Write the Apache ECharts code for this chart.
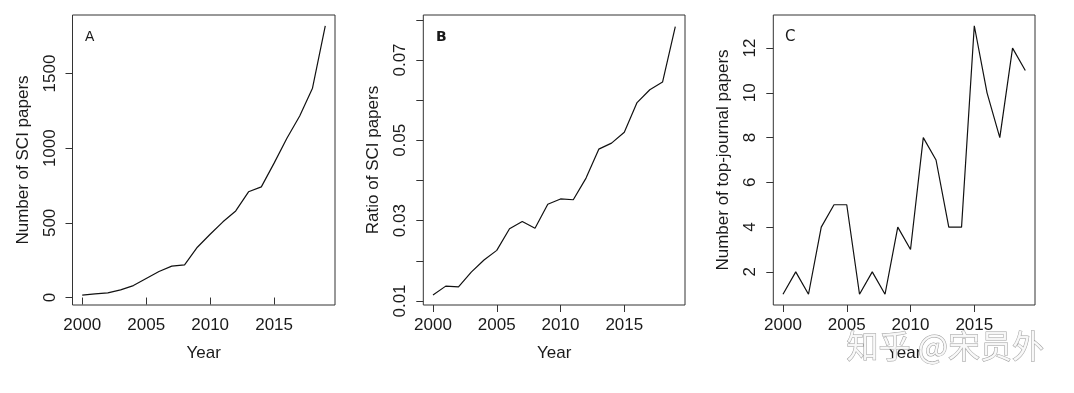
<!DOCTYPE html>
<html>
<head>
<meta charset="utf-8">
<script src="https://cdn.jsdelivr.net/npm/echarts@6/dist/echarts.min.js"></script>
<style>
html,body{margin:0;padding:0;background:#fff;}
#chart{width:1074px;height:393px;}
</style>
</head>
<body>
<div id="chart"></div>
<script>
// ---- data ----
const years = [2000,2001,2002,2003,2004,2005,2006,2007,2008,2009,2010,2011,2012,2013,2014,2015,2016,2017,2018,2019];
const sciCount = [16,25,31,51,80,127,174,210,219,337,424,507,580,708,741,900,1067,1216,1402,1819];
const sciRatio = [0.0115,0.0137,0.0135,0.0172,0.0202,0.0226,0.0280,0.0298,0.0281,0.0341,0.0354,0.0352,0.0406,0.0478,0.0493,0.0520,0.0594,0.0626,0.0645,0.0783];
const topJournal = [1,2,1,4,5,5,1,2,1,4,3,8,7,4,4,13,10,8,12,11];
const xTicks = [2000,2005,2010,2015];
const yTicksA = [0,500,1000,1500];
const yTicksB = [0.01,0.02,0.03,0.04,0.05,0.06,0.07,0.08];
const yLabelsB = [0.01,0.03,0.05,0.07];
const yTicksC = [2,4,6,8,10,12];
const panelLetters = ['A','B','C'];
const yTitles = ['Number of SCI papers','Ratio of SCI papers','Number of top-journal papers'];
const xTitle = 'Year';

const FONT = 'Liberation Sans, Arial, sans-serif';
const TXT = '#1a1a1a';

function pairs(vals){ return years.map((y,i)=>[y, vals[i]]); }

const grids = [
  {left:72.5, top:15, width:262.5, height:290},
  {left:423.3, top:15, width:261.7, height:290},
  {left:773.3, top:15, width:261.7, height:290}
];
const yRanges = [[-50,1892],[0.009,0.0812],[0.52,13.48]];
const yTickSets = [yTicksA, yTicksB, yTicksC];
const yLabelSets = [yTicksA, yLabelsB, yTicksC];
const yFormat = [v=>String(v), v=>v.toFixed(2), v=>String(v)];
const seriesVals = [sciCount, sciRatio, topJournal];

const option = {
  animation:false,
  backgroundColor:'#fff',
  grid: grids.map(g=>Object.assign({show:true, borderColor:'#333', borderWidth:1, backgroundColor:'transparent', containLabel:false, outerBoundsMode:'none'}, g)),
  xAxis: grids.map((g,i)=>({
    type:'value', gridIndex:i, min:1999.24, max:2019.76,
    name:xTitle, nameLocation:'middle', nameGap:40,
    nameTextStyle:{fontFamily:FONT, fontSize:17, color:TXT},
    axisLine:{show:false},
    splitLine:{show:false},
    axisTick:{show:true, inside:false, length:7, lineStyle:{color:'#333', width:1}, customValues:xTicks},
    axisLabel:{show:true, margin:12, fontFamily:FONT, fontSize:17, color:TXT, customValues:xTicks, formatter:v=>String(v)}
  })),
  yAxis: grids.map((g,i)=>({
    type:'value', gridIndex:i, min:yRanges[i][0], max:yRanges[i][1],
    name:yTitles[i], nameLocation:'middle', nameGap:41, nameRotate:90,
    nameTextStyle:{fontFamily:FONT, fontSize:17, color:TXT},
    axisLine:{show:false},
    splitLine:{show:false},
    axisTick:{show:true, inside:false, length:7, lineStyle:{color:'#333', width:1}, customValues:yTickSets[i]},
    axisLabel:{show:true, rotate:90, margin:14, fontFamily:FONT, fontSize:17, color:TXT, customValues:yLabelSets[i], formatter:yFormat[i]}
  })),
  series: seriesVals.map((vals,i)=>({
    type:'line', xAxisIndex:i, yAxisIndex:i, data:pairs(vals),
    showSymbol:false, symbol:'none',
    lineStyle:{color:'#111', width:1.2}
  })),
  graphic:[
    {type:'text', left:85, top:30, style:{text:panelLetters[0], font:'14px Liberation Sans, Arial, sans-serif', fill:TXT}},
    {type:'text', left:436, top:30, style:{text:panelLetters[1], font:'bold 14px DejaVu Sans, sans-serif', fill:TXT}},
    {type:'text', left:785, top:30, style:{text:panelLetters[2], font:'15px DejaVu Sans, sans-serif', fill:TXT}},
    {type:'text', left:846, top:329, z:100, style:{text:'知乎 @宋员外', font:'32px "Noto Sans CJK SC", sans-serif', fill:'rgba(248,248,248,0.92)', stroke:'#a0a0a0', lineWidth:1}}
  ]
};

const chart = echarts.init(document.getElementById('chart'), null, {renderer:'canvas'});
chart.setOption(option);
</script>
</body>
</html>
